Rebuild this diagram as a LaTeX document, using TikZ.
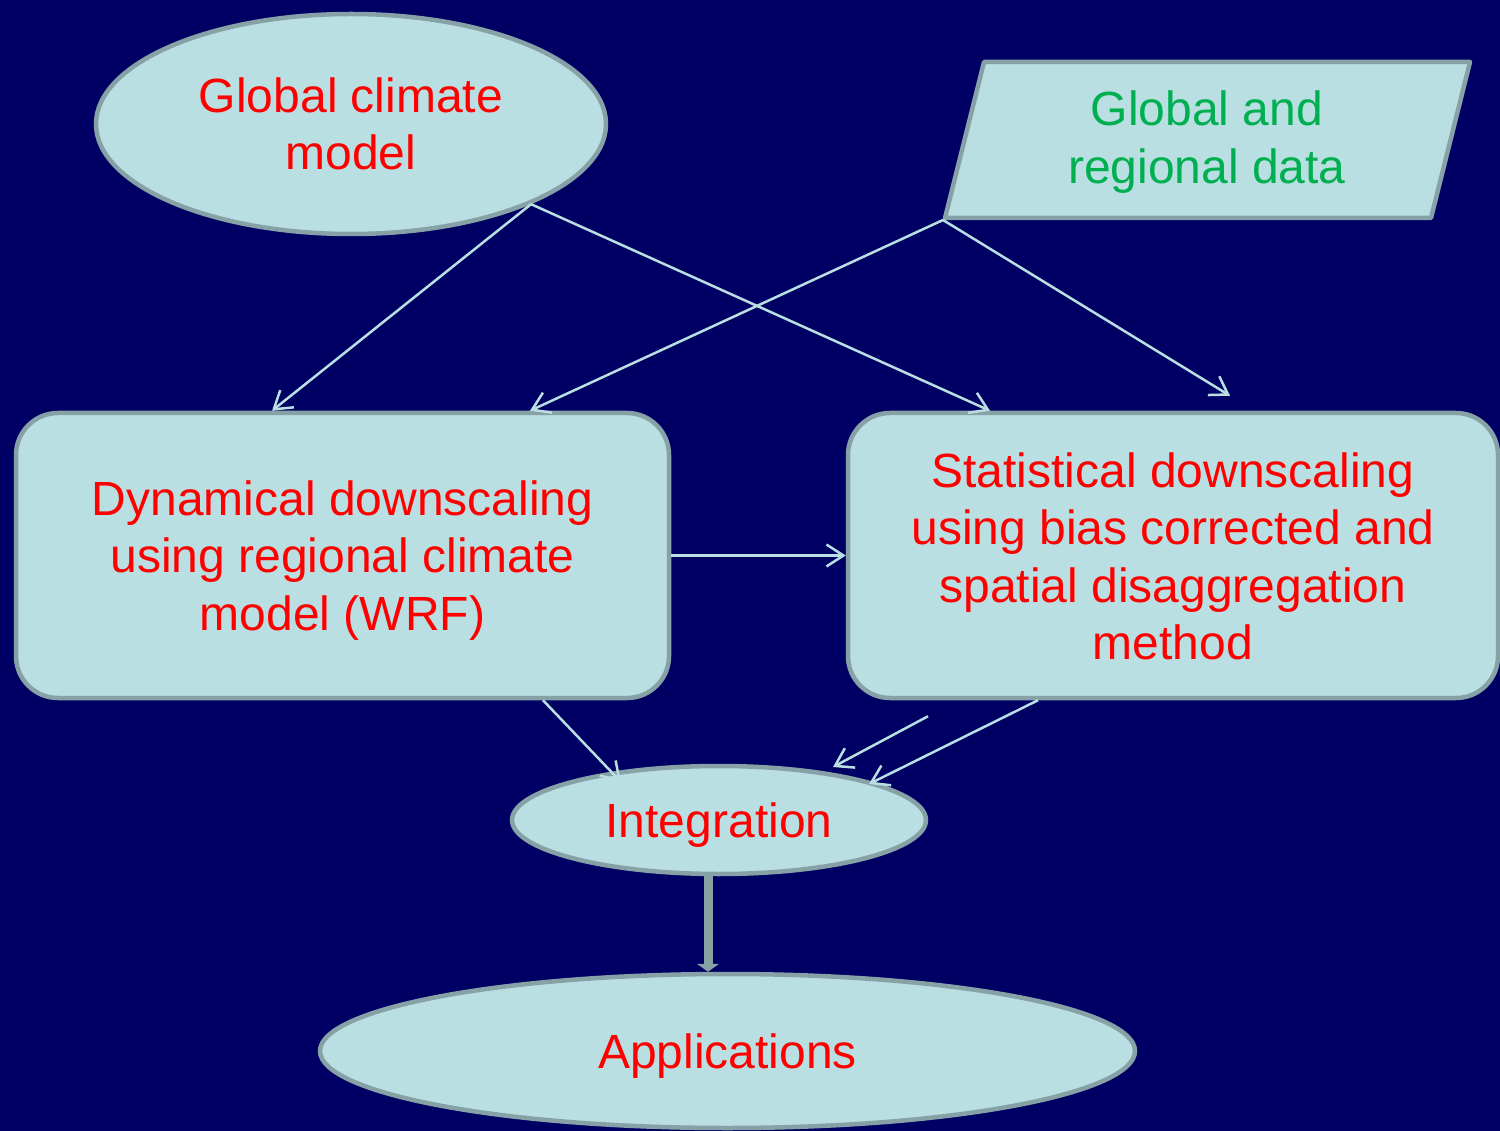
\documentclass[tikz,border=0pt]{standalone}
\usepackage{fontspec}
\setmainfont{Liberation Sans}
\usetikzlibrary{shapes.geometric,arrows.meta,calc}
\definecolor{bg}{RGB}{0,0,100}
\definecolor{boxfill}{RGB}{185,223,226}
\definecolor{boxline}{RGB}{135,162,166}
\definecolor{txtred}{RGB}{255,0,0}
\definecolor{txtgreen}{RGB}{0,176,80}
\definecolor{arrowcol}{RGB}{185,223,226}
\begin{document}
\begin{tikzpicture}[x=1pt,y=-1pt,
  labeltext/.style={align=center,inner sep=0pt,text=txtred,font=\fontsize{48}{57.5}\selectfont},
  shapebox/.style={fill=boxfill,draw=boxline,line width=4.5pt,inner sep=0pt},
  oval/.style={shapebox,ellipse},
  roundbox/.style={shapebox,rectangle,rounded corners=42pt},
  thinarrow/.style={draw=arrowcol,line width=2.5pt,-{Straight Barb[length=17pt,width=22pt]}},
  thickarrow/.style={draw=boxline,line width=9pt,-{Triangle[length=8pt,width=22pt]}}]
\fill[bg] (0,0) rectangle (1500,1131);
\useasboundingbox (0,0) rectangle (1500,1131);

% shapes
\node[oval,minimum width=510pt,minimum height=220pt] (gcm) at (351,124) {};
\node[labeltext] (gcmtext) at (gcm.center) {Global climate\\model};
\draw[fill=boxfill,draw=boxline,line width=4.5pt,line join=round]
  (984,62) -- (1470,62) -- (1431,218) -- (945,218) -- cycle;
\node[labeltext,text=txtgreen] (data) at (1207,142) {Global and\\regional data};
\coordinate (dataCorner) at (943,220);
\node[roundbox,minimum width=653pt,minimum height=285pt] (dyn) at (342.5,555.5) {};
\node[labeltext] (dyntext) at ([yshift=-5pt]dyn.center)
  {Dynamical downscaling\\using regional climate\\model (WRF)};
\node[roundbox,minimum width=650pt,minimum height=285pt] (stat) at (1173,555.5) {};
\node[labeltext] (stattext) at ([yshift=-1pt]stat.center)
  {Statistical downscaling\\using bias corrected and\\spatial disaggregation\\method};
\node[oval,minimum width=414pt,minimum height=108pt] (int) at (719,820) {};
\node[labeltext] (inttext) at ([yshift=-5pt]int.center) {Integration};
\node[oval,minimum width=815pt,minimum height=154pt] (app) at (727.5,1051) {};
\node[labeltext] (apptext) at ([yshift=-5pt]app.center) {Applications};

% connectors
\draw[thinarrow] (gcm.-24) -- ([xshift=-70.5pt]dyn.north);
\draw[thinarrow] (gcm.-24) -- ([xshift=-183pt]stat.north);
\draw[thinarrow] (dataCorner) -- ([xshift=187.5pt]dyn.north);
\draw[thinarrow] (dataCorner) -- ([xshift=57pt,yshift=15pt]stat.north);
\draw[thinarrow] (dyn.east) -- (stat.west);
\draw[thinarrow] ([xshift=200.5pt]dyn.south) -- ([xshift=-98pt,yshift=38pt]int.center);
\coordinate (s1) at ([xshift=-245pt,yshift=-16pt]stat.south);
\draw[thinarrow] (s1) -- ([xshift=114pt,yshift=53pt]int.center);
\draw[thinarrow] ([xshift=-135pt]stat.south) -- ([xshift=150pt,yshift=36pt]int.center);
\draw[thickarrow] ([xshift=-11pt]int.south) -- ([xshift=-19.5pt]app.north);
\end{tikzpicture}
\end{document}
